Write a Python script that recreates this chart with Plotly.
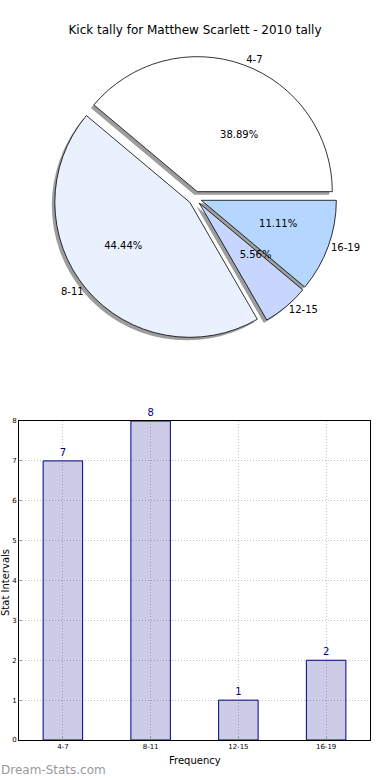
import plotly.graph_objects as go

labels = ["4-7", "8-11", "12-15", "16-19"]
values = [7, 8, 1, 2]
pie_colors = ["#ffffff", "#eaf1fe", "#c6d6ff", "#b4d6ff"]
title_text = "Kick tally for Matthew Scarlett - 2010 tally"

W, H = 390, 780
FONT = "DejaVu Sans"

# pie geometry (pixels)
pcx, pcy, pr = 195, 198, 135
pull = 0.05

def pie_domain(radius, dx=0, dy=0):
    half = radius * (1 + pull)
    return dict(
        x=[(pcx - half + dx) / W, (pcx + half + dx) / W],
        y=[1 - (pcy + half + dy) / H, 1 - (pcy - half + dy) / H],
    )

common = dict(labels=labels, values=values, sort=False, direction="counterclockwise",
              rotation=-50, pull=[pull] * len(values), hoverinfo="skip", showlegend=False)
clear = dict(colors=["rgba(0,0,0,0)"] * 4, line=dict(width=0))

fig = go.Figure()
# shadow
fig.add_trace(go.Pie(**common, domain=pie_domain(pr, -3, 3), textinfo="none",
                     marker=dict(colors=["rgba(60,60,60,0.5)"] * 4, line=dict(width=0))))
# main pie
fig.add_trace(go.Pie(**common, domain=pie_domain(pr), textinfo="none",
                     marker=dict(colors=pie_colors, line=dict(color="black", width=0.8))))
# percentages (placed around an invisible inner pie)
fig.add_trace(go.Pie(**common, domain=pie_domain(pr * 0.46, 0, 3), texttemplate="%{percent:.2%}",
                     textposition="outside", automargin=False,
                     textfont=dict(family=FONT, size=10, color="black"), marker=clear))
# outside labels
fig.add_trace(go.Pie(**common, domain=pie_domain(pr), textinfo="label",
                     textposition="outside", automargin=False,
                     textfont=dict(family=FONT, size=10, color="black"), marker=clear))

# bar chart
fig.add_trace(go.Bar(x=labels, y=values, width=0.45,
                     marker=dict(color="rgba(0,0,128,0.2)", line=dict(color="#000080", width=1)),
                     text=[str(v) for v in values], textposition="outside",
                     textfont=dict(family=FONT, size=10, color="#000080"),
                     cliponaxis=False, showlegend=False, hoverinfo="skip"))

ax_left, ax_right, ax_top, ax_bot = 19, 370, 421, 740
grid = dict(showgrid=True, gridcolor="#c4c4c4", griddash="1px,2px", gridwidth=1)
fig.update_layout(
    width=W, height=H,
    margin=dict(l=0, r=0, t=0, b=0, autoexpand=False),
    paper_bgcolor="white", plot_bgcolor="white",
    font=dict(family=FONT, color="black"),
    title=dict(text=title_text, x=0.5, xanchor="center", y=1 - 30 / H, yanchor="middle",
               font=dict(family=FONT, size=12, color="black")),
    xaxis=dict(domain=[ax_left / W, ax_right / W], range=[-0.5, 3.5], automargin=False,
               showline=True, linecolor="black", linewidth=1, mirror=True, **grid,
               ticks="inside", ticklen=3, tickcolor="#999",
               tickfont=dict(family=FONT, size=7, color="black"), zeroline=False),
    yaxis=dict(domain=[1 - ax_bot / H, 1 - ax_top / H], range=[0, 8], dtick=1, automargin=False,
               showline=True, linecolor="black", linewidth=1, mirror=True, **grid,
               ticks="inside", ticklen=3, tickcolor="#999",
               tickfont=dict(family=FONT, size=7, color="black"), zeroline=False),
    annotations=[
        dict(text="Frequency", x=(ax_left + ax_right) / 2 / W, y=1 - 760 / H,
             xref="paper", yref="paper", showarrow=False, xanchor="center", yanchor="middle",
             font=dict(family=FONT, size=10, color="black")),
        dict(text="Stat Intervals", x=5 / W, y=1 - 583 / H, textangle=-90,
             xref="paper", yref="paper", showarrow=False, xanchor="center", yanchor="middle",
             font=dict(family=FONT, size=10, color="black")),
        dict(text="Dream-Stats.com", x=-1 / W, y=1 - 770 / H,
             xref="paper", yref="paper", showarrow=False, xanchor="left", yanchor="middle",
             font=dict(family=FONT, size=12, color="#9a9a9a")),
    ],
)

fig.write_html(
    "out.html",
    config={"displayModeBar": False},
    post_script=("document.body.style.margin='0px';"
                 "document.body.style.overflow='hidden';"
                 "document.documentElement.style.overflow='hidden';"),
)
